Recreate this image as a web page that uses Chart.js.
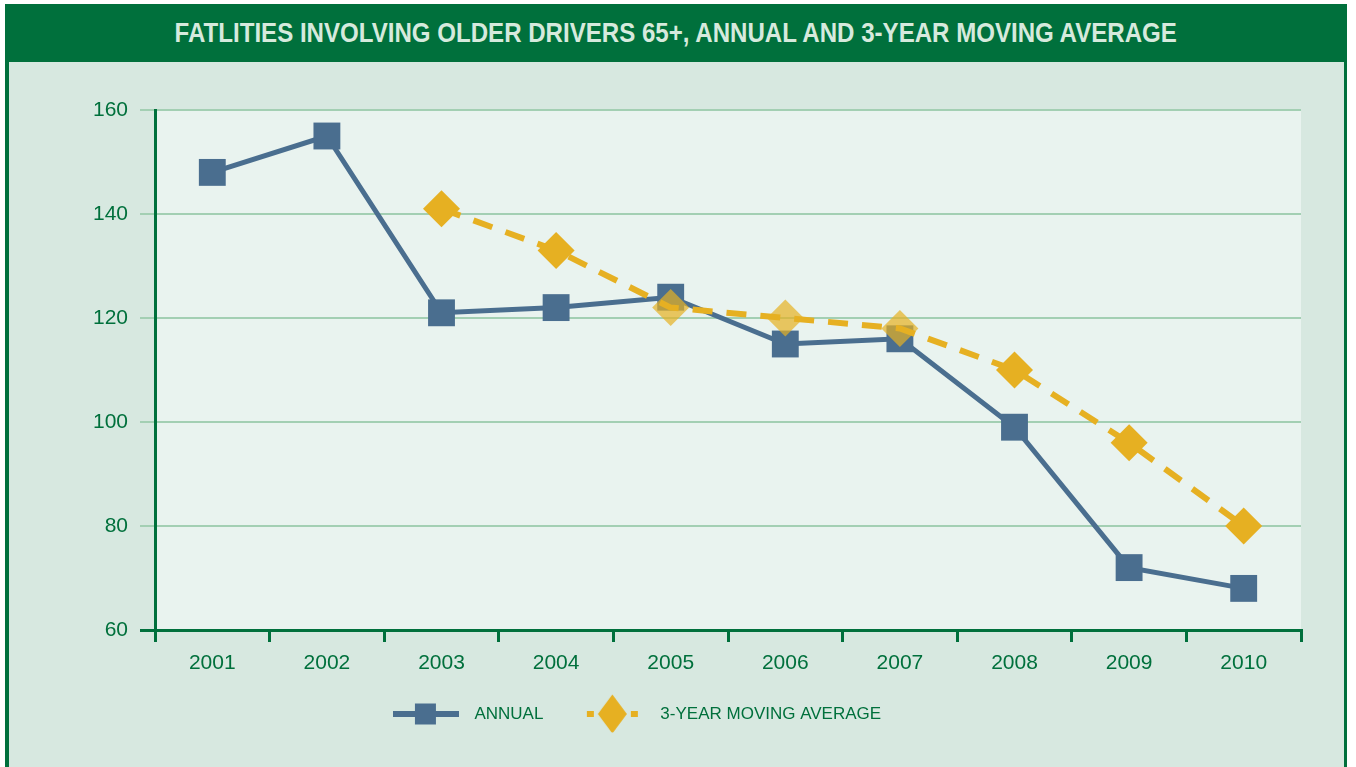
<!DOCTYPE html>
<html>
<head>
<meta charset="utf-8">
<title>Fatalities involving older drivers 65+</title>
<script src="https://cdn.jsdelivr.net/npm/chart.js@4.4.1/dist/chart.umd.min.js"></script>
<style>
  html, body { margin: 0; padding: 0; background: #fff; overflow: hidden; }
  #frame { position: absolute; left: 5px; top: 4px; width: 1342px; height: 780px; background: #00703c; }
  #title { height: 58px; display: flex; align-items: center; justify-content: center; }
  #title span { display: inline-block; white-space: nowrap; color: #d6eadd;
                font: bold 28px 'Liberation Sans', Arial, sans-serif; transform: scaleX(0.86); }
  #panel { position: absolute; left: 4px; top: 58px; width: 1335px; height: 720px; background: #d7e8e0; }
  #wrap { position: absolute; left: -34px; top: 0; width: 1390px; height: 767px; }
</style>
</head>
<body>
<div id="frame">
  <div id="title"><span>FATLITIES INVOLVING OLDER DRIVERS 65+, ANNUAL AND 3-YEAR MOVING AVERAGE</span></div>
  <div id="panel"></div>
</div>
<div id="wrap"><canvas id="chart"></canvas></div>

<script>
// data
const years = ['2001', '2002', '2003', '2004', '2005', '2006', '2007', '2008', '2009', '2010'];
const annual = [148, 155, 121, 122, 124, 115, 116, 99, 72, 68];
const movingAvg = [null, null, 141, 133, 122, 120, 118, 110, 96, 80];
const yTicks = [60, 80, 100, 120, 140, 160];
const seriesNames = ['ANNUAL', '3-YEAR MOVING AVERAGE'];

const GREEN = '#00703c';
const GRID = '#a3cfb3';
const BLUE = '#4a6e8f';
const GOLD = '#e6b022';
const GOLD_FADED = 'rgba(230, 176, 34, 0.7)';
const PLOT_BG = '#e9f3ef';

// the diamonds in the middle of the original are drawn see-through
const fadedYears = ['2005', '2006', '2007'];

Chart.defaults.font.family = "'Liberation Sans', Arial, sans-serif";
Chart.defaults.color = GREEN;

// legend icons: line with marker, like the original key
function legendIcon(kind) {
    const c = document.createElement('canvas');
    c.width = 66;
    c.height = 42;
    const g = c.getContext('2d');
    if (kind === 'square') {
        g.fillStyle = BLUE;
        g.fillRect(0, 18, 66, 6);
        g.fillRect(22, 10.5, 21, 21);
    } else {
        g.fillStyle = GOLD;
        g.fillRect(8, 18, 7, 6);
        g.fillRect(52, 18, 7, 6);
        g.beginPath();
        g.moveTo(33.5, 1.5);
        g.lineTo(48, 21);
        g.lineTo(33.5, 40.5);
        g.lineTo(19, 21);
        g.closePath();
        g.fill();
    }
    return c;
}
const icons = [legendIcon('square'), legendIcon('diamond')];

const plotBackground = {
    id: 'plotBackground',
    beforeDraw(chart) {
        const a = chart.chartArea;
        const ctx = chart.ctx;
        ctx.save();
        ctx.fillStyle = PLOT_BG;
        ctx.fillRect(a.left, a.top, a.right - a.left, a.bottom - a.top);
        ctx.restore();
    }
};

const ctx = document.getElementById('chart').getContext('2d');
new Chart(ctx, {
    type: 'line',
    data: {
        labels: years,
        datasets: [
            {
                label: seriesNames[0],
                data: annual,
                borderColor: BLUE,
                backgroundColor: BLUE,
                borderWidth: 5,
                pointStyle: 'rect',
                pointRadius: 19,
                pointBorderWidth: 0,
                tension: 0,
                order: 1
            },
            {
                label: seriesNames[1],
                data: movingAvg,
                borderColor: GOLD,
                backgroundColor: years.map(y => fadedYears.includes(y) ? GOLD_FADED : GOLD),
                borderWidth: 6,
                borderDash: [20, 14],
                pointStyle: 'rectRot',
                pointRadius: 18.5,
                pointBorderWidth: 0,
                tension: 0,
                order: 0
            }
        ]
    },
    options: {
        responsive: true,
        maintainAspectRatio: false,
        animation: false,
        events: [],
        clip: false,
        layout: {
            padding: { left: 0, right: 55, top: 110, bottom: 34.5 }
        },
        plugins: {
            title: { display: false },
            tooltip: { enabled: false },
            legend: {
                position: 'bottom',
                labels: {
                    usePointStyle: true,
                    pointStyleWidth: 80,
                    padding: 28.5,
                    color: GREEN,
                    font: { size: 17 },
                    generateLabels: () => seriesNames.map((name, i) => ({
                        text: name,
                        pointStyle: icons[i],
                        datasetIndex: i,
                        fillStyle: 'transparent',
                        strokeStyle: 'transparent',
                        lineWidth: 0,
                        hidden: false,
                        fontColor: GREEN
                    }))
                }
            }
        },
        scales: {
            x: {
                offset: true,
                grid: {
                    offset: true,
                    drawOnChartArea: false,
                    drawTicks: true,
                    tickLength: 12,
                    color: GREEN,
                    lineWidth: 3
                },
                border: { display: true, color: GREEN, width: 3 },
                ticks: { color: GREEN, font: { size: 21 }, padding: 9, maxRotation: 0 },
                afterFit: (scale) => { scale.height = 47; }
            },
            y: {
                min: yTicks[0],
                max: yTicks[yTicks.length - 1],
                grid: {
                    color: (c) => (c.tick && c.tick.value === yTicks[0]) ? GREEN : GRID,
                    lineWidth: (c) => (c.tick && c.tick.value === yTicks[0]) ? 3 : 2,
                    tickLength: 15
                },
                border: { display: true, color: GREEN, width: 3 },
                ticks: {
                    stepSize: yTicks[1] - yTicks[0],
                    color: GREEN,
                    font: { size: 21 },
                    padding: 12
                },
                afterFit: (scale) => { scale.width = 189; }
            }
        }
    },
    plugins: [plotBackground]
});
</script>
</body>
</html>
